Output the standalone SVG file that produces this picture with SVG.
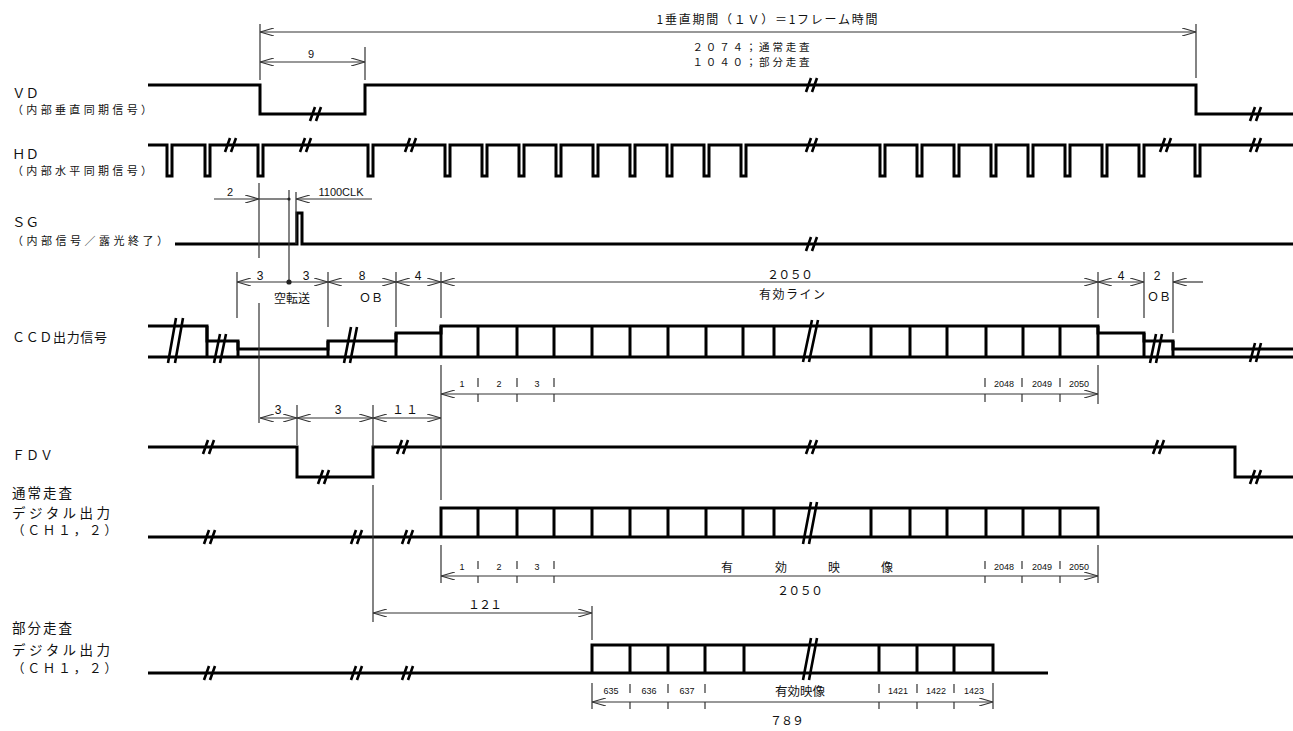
<svg xmlns="http://www.w3.org/2000/svg" xmlns:xlink="http://www.w3.org/1999/xlink" width="1293" height="731" viewBox="0 0 1293 731">
<style>
.sig{fill:none;stroke:#000;stroke-width:3;stroke-linejoin:miter}
.cell{fill:none;stroke:#000;stroke-width:3}
.dim{fill:none;stroke:#333;stroke-width:1.2}
.ext{fill:none;stroke:#333;stroke-width:1.2}
.bk{fill:none;stroke:#000;stroke-width:2.6}
.lb{font-family:"Noto Sans CJK JP","Noto Sans",sans-serif;fill:#111}
.nm{font-family:"Liberation Sans","DejaVu Sans",sans-serif;fill:#111}
</style>
<defs>
<marker id="ah" viewBox="0 0 14 8" refX="14" refY="4" markerWidth="14" markerHeight="8" markerUnits="userSpaceOnUse" orient="auto-start-reverse">
<path d="M0,0 L14,4 L0,8" fill="none" stroke="#333" stroke-width="1.2"/>
</marker>
<g id="b"><path class="bk" d="M-6,7 L-1,-7 M0,7 L5,-7"/></g>
</defs>
<rect width="1293" height="731" fill="#fff"/>

<g id="labels">
<text class="lb" x="12" y="98" font-size="13.5">ＶＤ</text>
<text class="lb" x="12" y="114" font-size="11" textLength="140" lengthAdjust="spacing">（内部垂直同期信号）</text>
<text class="lb" x="12" y="159" font-size="13.5">ＨＤ</text>
<text class="lb" x="12" y="175" font-size="11" textLength="140" lengthAdjust="spacing">（内部水平同期信号）</text>
<text class="lb" x="12" y="227" font-size="13.5">ＳＧ</text>
<text class="lb" x="12" y="245" font-size="11" textLength="156" lengthAdjust="spacing">（内部信号／露光終了）</text>
<text class="lb" x="12" y="342" font-size="13" textLength="95" lengthAdjust="spacing">ＣＣＤ出力信号</text>
<text class="lb" x="12" y="460" font-size="13" textLength="41" lengthAdjust="spacing">ＦＤＶ</text>
<text class="lb" x="12" y="498" font-size="13.5" textLength="60" lengthAdjust="spacing">通常走査</text>
<text class="lb" x="12" y="518" font-size="13.5" textLength="98" lengthAdjust="spacing">デジタル出力</text>
<text class="lb" x="12" y="535" font-size="12.5" textLength="105" lengthAdjust="spacing">（ＣＨ１，２）</text>
<text class="lb" x="12" y="633" font-size="13.5" textLength="60" lengthAdjust="spacing">部分走査</text>
<text class="lb" x="12" y="655" font-size="13.5" textLength="98" lengthAdjust="spacing">デジタル出力</text>
<text class="lb" x="12" y="673" font-size="12.5" textLength="105" lengthAdjust="spacing">（ＣＨ１，２）</text>
</g>

<g id="vd">
<path class="sig" d="M148,85 H260 V114 H365 V85 H1196 V114 H1293"/>
<use href="#b" x="316" y="114"/><use href="#b" x="812" y="85"/><use href="#b" x="1256" y="114"/>
</g>

<g id="hd">
<path class="sig" d="M148,145 H167 V176 H172 V145 H205 V176 H210 V145 H258 V176 H263 V145 H368 V176 H373 V145 H445 V176 H450 V145 H482 V176 H487 V145 H519 V176 H524 V145 H556 V176 H561 V145 H593 V176 H598 V145 H630 V176 H635 V145 H667 V176 H672 V145 H704 V176 H709 V145 H741 V176 H746 V145 H880 V176 H885 V145 H917 V176 H922 V145 H954 V176 H959 V145 H991 V176 H996 V145 H1028 V176 H1033 V145 H1065 V176 H1070 V145 H1102 V176 H1107 V145 H1139 V176 H1144 V145 H1195 V176 H1200 V145 H1293"/>
<use href="#b" x="231" y="145"/><use href="#b" x="306" y="145"/><use href="#b" x="411" y="145"/><use href="#b" x="812" y="145"/><use href="#b" x="1166" y="145"/><use href="#b" x="1256" y="145"/>
</g>

<g id="sg">
<path class="sig" d="M175,244 H297 V213 H302 V244 H1293"/>
<use href="#b" x="812" y="244"/>
</g>

<g id="ccd">
<path class="sig" d="M148,326 H207 V341 H238 V349 H328 V341 H396 V333 H441 V326 H1098 V333 H1144 V341 H1173 V349 H1293"/>
<path class="sig" d="M148,357 H1293"/>
<path class="cell" d="M207,326 V357 M238,341 V357 M328,341 V357 M396,333 V357 M441,326 V357 M478,326 V357 M517,326 V357 M554,326 V357 M592,326 V357 M630,326 V357 M668,326 V357 M706,326 V357 M743,326 V357 M774,326 V357 M871,326 V357 M910,326 V357 M947,326 V357 M986,326 V357 M1023,326 V357 M1060,326 V357 M1098,326 V357 M1144,333 V357 M1173,341 V357"/>
<path class="bk" d="M168,363 L176,318 M175,363 L183,318 M214,363 L220,334 M220,363 L226,334 M344,363 L351,327 M350,363 L357,327 M803,362 L812,320 M809,362 L818,320 M1150,363 L1156,334 M1156,363 L1162,334 M1250,362 L1255,343 M1256,362 L1261,343"/>
</g>

<g id="fdv">
<path class="sig" d="M148,447 H297 V477 H373 V447 H1235 V477 H1293"/>
<use href="#b" x="209" y="447"/><use href="#b" x="324" y="477"/><use href="#b" x="403" y="447"/><use href="#b" x="812" y="447"/><use href="#b" x="1159" y="447"/><use href="#b" x="1256" y="477"/>
</g>

<g id="normal">
<path class="sig" d="M148,537 H1293"/>
<path class="sig" d="M441,537 V508 H1098 V537"/>
<path class="cell" d="M478,508 V537 M517,508 V537 M554,508 V537 M592,508 V537 M630,508 V537 M668,508 V537 M706,508 V537 M743,508 V537 M774,508 V537 M871,508 V537 M910,508 V537 M947,508 V537 M986,508 V537 M1023,508 V537 M1060,508 V537"/>
<use href="#b" x="210" y="537"/><use href="#b" x="357" y="537"/><use href="#b" x="408" y="537"/>
<path class="bk" d="M803,544 L811,502 M809,544 L817,502"/>
</g>

<g id="partial">
<path class="sig" d="M148,673 H1048"/>
<path class="sig" d="M592,673 V645 H993 V673"/>
<path class="cell" d="M630,645 V673 M668,645 V673 M705,645 V673 M744,645 V673 M879,645 V673 M917,645 V673 M954,645 V673"/>
<use href="#b" x="210" y="673"/><use href="#b" x="357" y="673"/><use href="#b" x="408" y="673"/>
<path class="bk" d="M803,680 L811,638 M809,680 L817,638"/>
</g>

<g id="dims">
<path class="ext" d="M260,24 V80 M365,47 V80 M1196,24 V78
M259,183 V258 M259,303 V423 M289,190 V282 M296,192 V244
M237,272 V318 M328,272 V327 M396,272 V327 M441,272 V318 M1098,272 V318 M1144,272 V318 M1173,272 V333
M441,365 V500 M1098,365 V404
M297,405 V445 M373,405 V447 M373,485 V622
M441,545 V583 M1098,545 V583
M592,606 V640 M592,683 V709 M993,683 V709"/>
<path class="ext" d="M478,378 V387 M478,394 V402 M517,378 V387 M517,394 V402 M554,378 V387 M554,394 V402 M985,378 V387 M985,394 V402 M1022,378 V387 M1022,394 V402 M1060,378 V387 M1060,394 V402
M478,561 V569 M478,576 V583 M517,561 V569 M517,576 V583 M554,561 V569 M554,576 V583 M985,561 V569 M985,576 V583 M1022,561 V569 M1022,576 V583 M1060,561 V569 M1060,576 V583
M630,684 V693 M630,702 V709 M668,684 V693 M668,702 V709 M705,684 V693 M705,702 V709 M879,684 V693 M879,702 V709 M917,684 V693 M917,702 V709 M954,684 V693 M954,702 V709"/>
<line class="dim" x1="260" y1="32" x2="1196" y2="32" marker-start="url(#ah)" marker-end="url(#ah)"/>
<line class="dim" x1="260" y1="62" x2="365" y2="62" marker-start="url(#ah)" marker-end="url(#ah)"/>
<line class="dim" x1="214" y1="199" x2="259" y2="199" marker-end="url(#ah)"/>
<line class="dim" x1="259" y1="199" x2="289" y2="199"/>
<line class="dim" x1="372" y1="199" x2="296" y2="199" marker-end="url(#ah)"/>
<circle cx="289" cy="199" r="1.6" fill="#222"/>
<line class="dim" x1="237" y1="282" x2="289" y2="282" marker-start="url(#ah)"/>
<line class="dim" x1="289" y1="282" x2="328" y2="282" marker-end="url(#ah)"/>
<circle cx="289" cy="282" r="2.6" fill="#222"/>
<line class="dim" x1="328" y1="282" x2="396" y2="282" marker-start="url(#ah)" marker-end="url(#ah)"/>
<line class="dim" x1="396" y1="282" x2="441" y2="282" marker-start="url(#ah)" marker-end="url(#ah)"/>
<line class="dim" x1="441" y1="282" x2="1098" y2="282" marker-start="url(#ah)" marker-end="url(#ah)"/>
<line class="dim" x1="1098" y1="282" x2="1144" y2="282" marker-start="url(#ah)" marker-end="url(#ah)"/>
<line class="dim" x1="1203" y1="282" x2="1173" y2="282" marker-end="url(#ah)"/>
<line class="dim" x1="441" y1="394" x2="1098" y2="394" marker-start="url(#ah)" marker-end="url(#ah)"/>
<line class="dim" x1="260" y1="418" x2="297" y2="418" marker-start="url(#ah)" marker-end="url(#ah)"/>
<line class="dim" x1="297" y1="418" x2="373" y2="418" marker-start="url(#ah)" marker-end="url(#ah)"/>
<line class="dim" x1="373" y1="418" x2="441" y2="418" marker-start="url(#ah)" marker-end="url(#ah)"/>
<line class="dim" x1="441" y1="576" x2="1098" y2="576" marker-start="url(#ah)" marker-end="url(#ah)"/>
<line class="dim" x1="373" y1="613" x2="592" y2="613" marker-start="url(#ah)" marker-end="url(#ah)"/>
<line class="dim" x1="592" y1="702" x2="993" y2="702" marker-start="url(#ah)" marker-end="url(#ah)"/>
</g>

<g id="dimtext" text-anchor="middle">
<text class="lb" x="767" y="24" font-size="12" textLength="221" lengthAdjust="spacing">1垂直期間（１Ｖ）＝1フレーム時間</text>
<text class="lb" x="751" y="51" font-size="10.5" textLength="117" lengthAdjust="spacing">２０７４；通常走査</text>
<text class="lb" x="751" y="66" font-size="10.5" textLength="117" lengthAdjust="spacing">１０４０；部分走査</text>
<text class="nm" x="311" y="58" font-size="11">9</text>
<text class="nm" x="230" y="196" font-size="11">2</text>
<text class="nm" x="341" y="196" font-size="10" textLength="45" lengthAdjust="spacingAndGlyphs">1100CLK</text>
<text class="nm" x="260" y="280" font-size="12">3</text>
<text class="nm" x="306" y="280" font-size="12">3</text>
<text class="nm" x="362" y="280" font-size="12">8</text>
<text class="nm" x="418" y="280" font-size="12">4</text>
<text class="lb" x="292" y="303" font-size="12">空転送</text>
<text class="lb" x="371" y="302" font-size="12">ＯＢ</text>
<text class="lb" x="790" y="279" font-size="12" textLength="46" lengthAdjust="spacing">２０５０</text>
<text class="lb" x="792" y="299" font-size="12" textLength="66" lengthAdjust="spacing">有効ライン</text>
<text class="nm" x="1121" y="280" font-size="12">4</text>
<text class="nm" x="1157" y="280" font-size="12">2</text>
<text class="lb" x="1159" y="301" font-size="12">ＯＢ</text>
<text class="nm" x="462" y="387" font-size="9">1</text>
<text class="nm" x="499" y="387" font-size="9">2</text>
<text class="nm" x="537" y="387" font-size="9">3</text>
<text class="nm" x="1004" y="387" font-size="9">2048</text>
<text class="nm" x="1042" y="387" font-size="9">2049</text>
<text class="nm" x="1079" y="387" font-size="9">2050</text>
<text class="nm" x="278" y="414" font-size="12">3</text>
<text class="nm" x="338" y="414" font-size="12">3</text>
<text class="lb" x="405" y="414" font-size="12" textLength="26" lengthAdjust="spacing">１１</text>
<text class="nm" x="462" y="570" font-size="9">1</text>
<text class="nm" x="499" y="570" font-size="9">2</text>
<text class="nm" x="537" y="570" font-size="9">3</text>
<text class="lb" x="727" y="572" font-size="12">有</text>
<text class="lb" x="781" y="572" font-size="12">効</text>
<text class="lb" x="834" y="572" font-size="12">映</text>
<text class="lb" x="887" y="572" font-size="12">像</text>
<text class="nm" x="1004" y="570" font-size="9">2048</text>
<text class="nm" x="1042" y="570" font-size="9">2049</text>
<text class="nm" x="1079" y="570" font-size="9">2050</text>
<text class="lb" x="800" y="595" font-size="12" textLength="46" lengthAdjust="spacing">２０５０</text>
<text class="lb" x="485" y="609" font-size="12" textLength="34" lengthAdjust="spacing">１２１</text>
<text class="nm" x="611" y="694" font-size="9">635</text>
<text class="nm" x="649" y="694" font-size="9">636</text>
<text class="nm" x="687" y="694" font-size="9">637</text>
<text class="lb" x="800" y="696" font-size="12.5">有効映像</text>
<text class="nm" x="898" y="694" font-size="9">1421</text>
<text class="nm" x="936" y="694" font-size="9">1422</text>
<text class="nm" x="974" y="694" font-size="9">1423</text>
<text class="lb" x="787" y="725" font-size="12" textLength="34" lengthAdjust="spacing">７８９</text>
</g>
</svg>
